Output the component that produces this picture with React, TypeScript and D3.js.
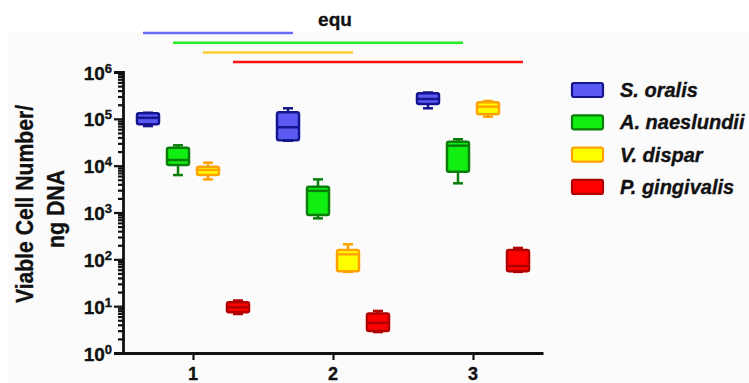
import React, { useEffect, useRef } from 'react';
import * as d3 from 'd3';

// groups on the x axis
const groups = [1, 2, 3];
const seriesNames = ['S. oralis', 'A. naeslundii', 'V. dispar', 'P. gingivalis'];
const fillColors = ['#5a5af2', '#11ee11', '#ffff00', '#ff0000'];
const strokeColors = ['#15158f', '#0a7d0a', '#ffa200', '#b00000'];
const compColors = ['#6b6bff', '#22ee22', '#ffcc33', '#ff1111'];

// [min, q1, median, q3, max] per group
const oralisBoxes = [
  [7.0e4, 7.65e4, 1.05e5, 1.31e5, 1.35e5],
  [3.4e4, 3.5e4, 6.6e4, 1.38e5, 1.68e5],
  [1.68e5, 2.07e5, 2.65e5, 3.5e5, 3.65e5],
];
const naeslundiiBoxes = [
  [6.3e3, 1.03e4, 1.32e4, 2.42e4, 2.72e4],
  [750, 880, 2.9e3, 3.56e3, 5.1e3],
  [4.2e3, 7.4e3, 2.67e4, 3.25e4, 3.66e4],
];
const disparBoxes = [
  [5.1e3, 6.3e3, 8.1e3, 9.5e3, 1.16e4],
  [54, 56, 128, 158, 209],
  [1.11e5, 1.25e5, 1.82e5, 2.26e5, 2.4e5],
];
const gingivalisBoxes = [
  [6.8, 7.4, 9.5, 12.1, 13.2],
  [2.8, 2.95, 4.4, 7.0, 7.9],
  [54, 56, 72, 158, 175],
];
const allBoxes = [oralisBoxes, naeslundiiBoxes, disparBoxes, gingivalisBoxes];

// comparison bars at the top: series index, from group, to group
const comparisons = [
  { s: 0, from: 1, to: 2 },
  { s: 1, from: 1, to: 3 },
  { s: 2, from: 1, to: 2 },
  { s: 3, from: 1, to: 3 },
];

const yExponents = [0, 1, 2, 3, 4, 5, 6];
const yTitleLines = ['Viable Cell Number/', 'ng DNA'];

function App() {
  const ref = useRef<SVGSVGElement>(null);

  useEffect(() => {
    document.body.style.margin = '0';
    const svg = d3.select(ref.current);
    svg.selectAll('*').remove();

    const font = '"Liberation Sans", Arial, sans-serif';
    const ink = '#111';
    const x = d3.scaleLinear().domain([0.5, 3.5]).range([123, 543]);
    const y = d3.scaleLog().domain([1, 1e6]).range([353, 72]);
    const off = d3.scalePoint<number>().domain([0, 1, 2, 3]).range([-45, 45]);
    const boxW = 22;

    svg.append('rect').attr('x', 7).attr('y', 33).attr('width', 742).attr('height', 350).attr('fill', '#fbfbfb');

    // bold text, slightly thickened
    const boldText = (sel: any, size: number) => sel
      .style('font-family', font).style('font-weight', 'bold').style('font-size', size + 'px')
      .attr('fill', ink).attr('stroke', ink).attr('stroke-width', 0.35);

    // comparison lines
    comparisons.forEach((c, i) => {
      svg.append('line')
        .attr('x1', x(c.from) + off(c.s)! - 5)
        .attr('x2', x(c.to) + off(c.s)! + 5)
        .attr('y1', 33 + i * 9.7)
        .attr('y2', 33 + i * 9.7)
        .attr('stroke', compColors[c.s])
        .attr('stroke-width', 2.5);
    });

    boldText(svg.append('text').attr('x', 335).attr('y', 26).attr('text-anchor', 'middle'), 19)
      .text('equ');

    // y axis
    const majors = yExponents.map(e => Math.pow(10, e));
    const minors: number[] = [];
    yExponents.slice(0, -1).forEach(e => {
      for (let k = 2; k <= 9; k++) minors.push(k * Math.pow(10, e));
    });

    const yAxis = svg.append('g').attr('transform', 'translate(123,0)')
      .call(d3.axisLeft(y).tickValues(majors).tickSize(9).tickFormat(() => ''));
    svg.append('g').attr('transform', 'translate(123,0)')
      .call(d3.axisLeft(y).tickValues(minors).tickSize(5).tickFormat(() => ''))
      .select('.domain').remove();
    svg.selectAll('.tick line').attr('stroke', ink).attr('stroke-width', 2.2);
    yAxis.select('.domain').attr('stroke', ink).attr('stroke-width', 2.8);

    yExponents.forEach(e => {
      const t = boldText(svg.append('text')
        .attr('x', 112).attr('y', y(Math.pow(10, e)) + 7.5)
        .attr('text-anchor', 'end'), 19);
      t.append('tspan').text('10');
      t.append('tspan').attr('dy', -7).style('font-size', '13px').text(String(e));
    });

    // x axis
    const xAxis = svg.append('g').attr('transform', 'translate(0,353)')
      .call(d3.axisBottom(x).tickValues(groups).tickSize(7).tickSizeOuter(0).tickFormat(() => ''));
    xAxis.select('.domain').attr('stroke', ink).attr('stroke-width', 2.8);
    xAxis.selectAll('.tick line').attr('stroke', ink).attr('stroke-width', 2.2);
    groups.forEach(g => {
      boldText(svg.append('text')
        .attr('x', x(g)).attr('y', 380)
        .attr('text-anchor', 'middle'), 18)
        .text(String(g));
    });

    // y title
    const titleX = [33, 64];
    const titleY = [204, 209];
    const titleLen = [198, 78];
    yTitleLines.forEach((line, i) => {
      boldText(svg.append('text')
        .attr('transform', `translate(${titleX[i]},${titleY[i]}) rotate(-90)`)
        .attr('text-anchor', 'middle')
        .attr('textLength', titleLen[i]).attr('lengthAdjust', 'spacingAndGlyphs'), 23)
        .text(line);
    });

    // boxes
    allBoxes.forEach((boxes, s) => {
      const gS = svg.append('g');
      boxes.forEach((b, gi) => {
        const cx = x(groups[gi]) + off(s)!;
        const [mn, q1, md, q3, mx] = b;
        const stroke = strokeColors[s];
        gS.append('line').attr('x1', cx).attr('x2', cx).attr('y1', y(mx)).attr('y2', y(mn))
          .attr('stroke', stroke).attr('stroke-width', 2.5);
        [mn, mx].forEach(v => {
          gS.append('line').attr('x1', cx - 5).attr('x2', cx + 5).attr('y1', y(v)).attr('y2', y(v))
            .attr('stroke', stroke).attr('stroke-width', 2.5);
        });
        gS.append('rect')
          .attr('x', cx - boxW / 2).attr('y', y(q3))
          .attr('width', boxW).attr('height', y(q1) - y(q3))
          .attr('rx', 2)
          .attr('fill', fillColors[s]).attr('stroke', stroke).attr('stroke-width', 2.5);
        gS.append('line').attr('x1', cx - boxW / 2).attr('x2', cx + boxW / 2).attr('y1', y(md)).attr('y2', y(md))
          .attr('stroke', stroke).attr('stroke-width', 2.5);
      });
    });

    // legend
    seriesNames.forEach((name, i) => {
      const cy = 90 + i * 32.3;
      svg.append('rect')
        .attr('x', 572).attr('y', cy - 7).attr('width', 31).attr('height', 14).attr('rx', 2)
        .attr('fill', fillColors[i]).attr('stroke', strokeColors[i]).attr('stroke-width', 2.2);
      boldText(svg.append('text')
        .attr('x', 620).attr('y', cy + 7)
        .style('font-style', 'italic'), 20)
        .text(name);
    });
  }, []);

  return <svg ref={ref} width={749} height={383} style={{ display: 'block' }} />;
}

export default App;
